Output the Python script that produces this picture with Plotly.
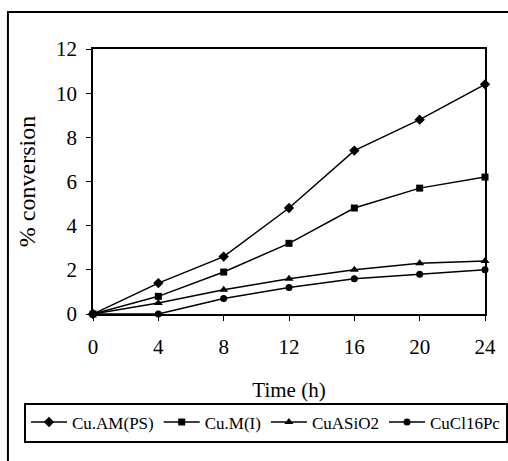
import plotly.graph_objects as go

hours = [0, 4, 8, 12, 16, 20, 24]
cu_am_ps = [0, 1.4, 2.6, 4.8, 7.4, 8.8, 10.4]
cu_m_i = [0, 0.8, 1.9, 3.2, 4.8, 5.7, 6.2]
cu_asio2 = [0, 0.5, 1.1, 1.6, 2.0, 2.3, 2.4]
cu_cl16pc = [0, 0, 0.7, 1.2, 1.6, 1.8, 2.0]

series = [
    ("Cu.AM(PS)", cu_am_ps, "diamond", 8),
    ("Cu.M(I)", cu_m_i, "square", 7),
    ("CuASiO2", cu_asio2, "triangle-up", 8),
    ("CuCl16Pc", cu_cl16pc, "circle", 7),
]

FONT = "Liberation Serif, Times New Roman, serif"

fig = go.Figure()
for name, vals, sym, sz in series:
    fig.add_trace(go.Scatter(
        x=hours, y=vals, name=name, mode="lines+markers",
        line=dict(color="black", width=1.5),
        marker=dict(symbol=sym, size=sz, color="black"),
        cliponaxis=False,
    ))

fig.update_layout(
    width=508, height=461,
    margin=dict(l=93, r=23, t=49, b=147),
    paper_bgcolor="white", plot_bgcolor="white",
    font=dict(family=FONT, color="black"),
    showlegend=True,
    legend=dict(
        orientation="h", x=-0.163, y=-0.334, xanchor="left", yanchor="top",
        bordercolor="black", borderwidth=2, bgcolor="white",
        font=dict(size=17, family=FONT), itemwidth=36, tracegroupgap=0,
    ),
    xaxis=dict(
        range=[0, 24], tickvals=hours, ticks="outside", ticklen=5,
        tickcolor="black", showline=True, linecolor="black", linewidth=1.5,
        mirror=True, showgrid=False, zeroline=False, ticklabelstandoff=8,
        tickfont=dict(size=21), title=dict(text="Time (h)", font=dict(size=21), standoff=24),
    ),
    yaxis=dict(
        range=[0, 12], tickvals=[0, 2, 4, 6, 8, 10, 12], ticks="outside", ticklen=5,
        tickcolor="black", showline=True, linecolor="black", linewidth=1.5,
        mirror=True, showgrid=False, zeroline=False, ticklabelstandoff=5,
        tickfont=dict(size=21), title=dict(text="% conversion", font=dict(size=24), standoff=14),
    ),
    shapes=[dict(
        type="rect", xref="paper", yref="paper",
        x0=-0.217, y0=-0.7, x1=1.3, y1=1.1396,
        line=dict(color="black", width=2), layer="below",
    )],
)

fig.write_html("out.html")
